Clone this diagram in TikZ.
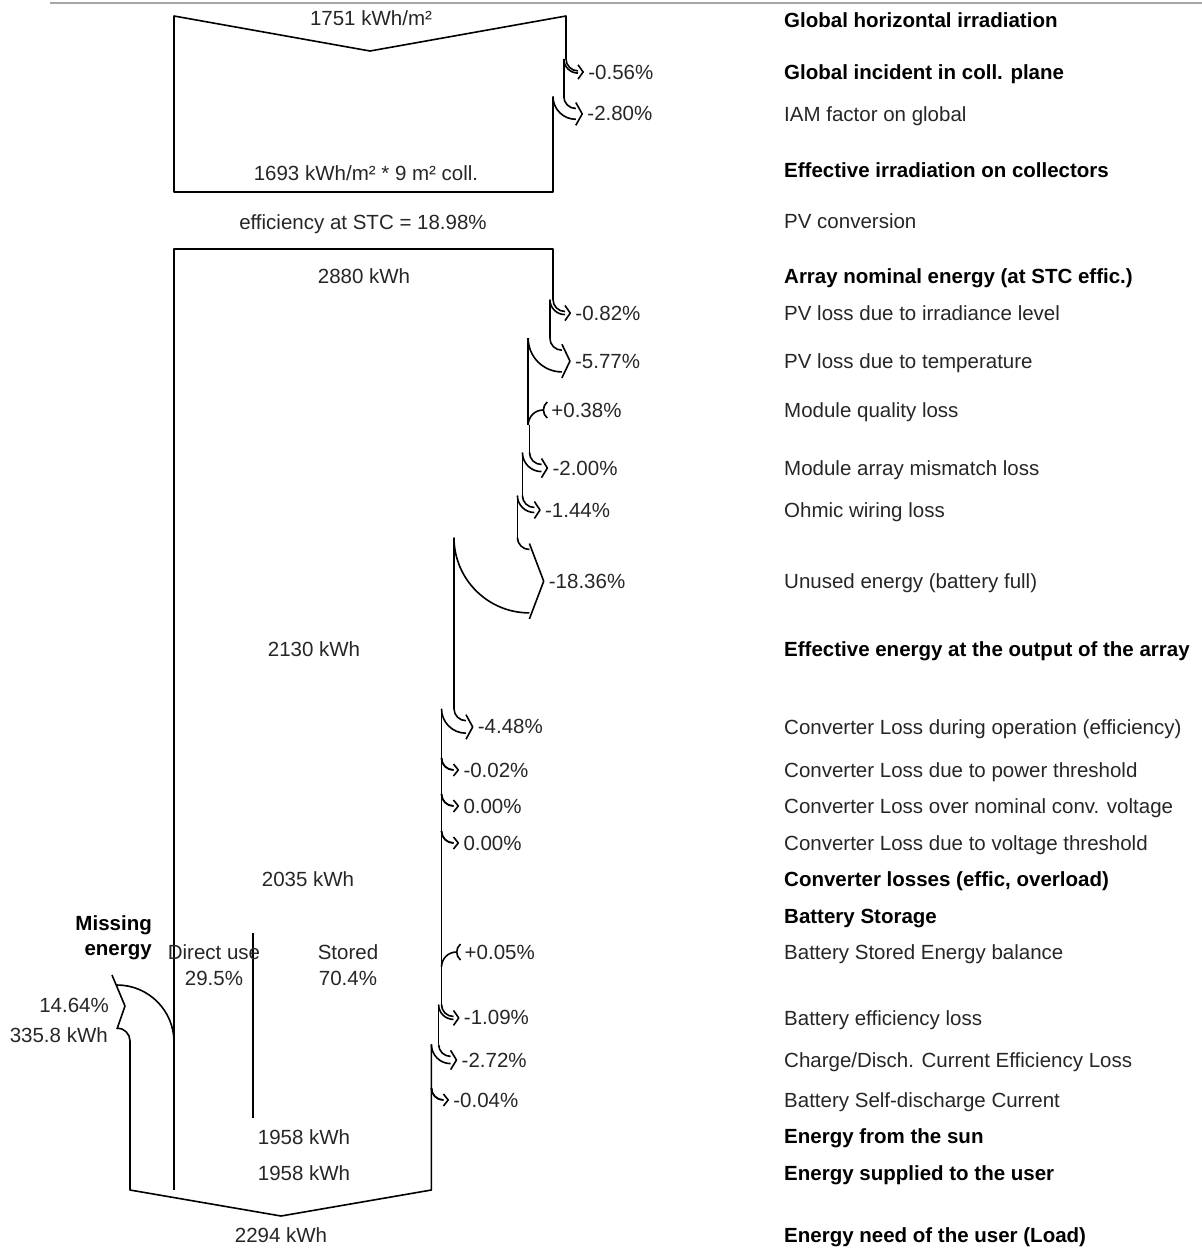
\documentclass[tikz,border=0pt]{standalone}
\usepackage{fontspec}
\setmainfont{Liberation Sans}
\usepackage{tikz}
\usetikzlibrary{arrows,positioning,calc}
\tikzstyle{flow}=[line width=1.6pt,line join=round]
\tikzstyle{stepname}=[anchor=base west,inner sep=0pt,text=black!85,font=\fontsize{20.5}{26}\selectfont]
\tikzstyle{stepbold}=[stepname,text=black,font=\fontsize{20.5}{26}\selectfont\bfseries]
\tikzstyle{flowvalue}=[anchor=base,inner sep=0pt,text=black!85,font=\fontsize{20.5}{26}\selectfont]
\tikzstyle{losspct}=[anchor=base west,inner sep=0pt,text=black!85,font=\fontsize{20.5}{26}\selectfont]
% loss ribbon leaving the band on the right: old edge, new edge, start y, text, name
\newcommand{\lossarrow}[5]{%
  \pgfmathsetmacro{\lossw}{#1-#2}%
  \pgfmathsetmacro{\lossR}{\lossw+12}%
  \pgfmathsetmacro{\lossxe}{#1+12}%
  \pgfmathsetmacro{\lossyo}{#3+12}%
  \pgfmathsetmacro{\lossyi}{#3+\lossR}%
  \pgfmathsetmacro{\lossym}{#3+12+\lossw/2}%
  \pgfmathsetmacro{\losstip}{\lossxe+3+0.3*(\lossw/2+6)}%
  \pgfmathsetmacro{\lossca}{#3+0.552*12}%
  \pgfmathsetmacro{\losscb}{\lossxe-0.552*12}%
  \pgfmathsetmacro{\losscc}{#3+0.552*\lossR}%
  \pgfmathsetmacro{\losscd}{\lossxe-0.552*\lossR}%
  \pgfmathsetmacro{\losslx}{\losstip+5}%
  \pgfmathsetmacro{\lossly}{\lossym+7}%
  \draw[flow] (#1,#3) .. controls (#1,\lossca) and (\losscb,\lossyo) .. (\lossxe,\lossyo);
  \draw[flow] (#2,#3) .. controls (#2,\losscc) and (\losscd,\lossyi) .. (\lossxe,\lossyi);
  \draw[flow] (\lossxe,\lossyo-6) -- (\losstip,\lossym) -- (\lossxe,\lossyi+6);
  \node[losspct] (#5) at (\losslx,\lossly) {#4};
}
% small gain coming in from the right: edge x, end y, text, name
\newcommand{\gainarrow}[4]{%
  \pgfmathsetmacro{\gainxe}{#1+15}%
  \pgfmathsetmacro{\gainye}{#2-15}%
  \draw[flow] (#1,#2) .. controls (#1,#2-8.3) and (#1+6.7,\gainye) .. (\gainxe,\gainye);
  \draw[flow] (#1+19,#2-23) .. controls (#1+14,#2-19) and (#1+14,#2-11) .. (#1+19,#2-7);
  \node[losspct] (#4) at (#1+23,#2-8) {#3};
}

\begin{document}
\begin{tikzpicture}[x=1pt,y=-1pt]
\useasboundingbox (0,0) rectangle (1202,1248);
\draw[gray!70,line width=1.2pt] (50,3) -- (1202,3);

% irradiation band
\draw[flow] (566,58.9) -- (566,16) -- (370,51) -- (174,16) -- (174,192) -- (553,192) -- (553,96.5);
\draw[flow] (563.8,58.9) -- (563.8,96.5);
\lossarrow{566}{563.8}{58.9}{-0.56\%}{pctgip}
\lossarrow{563.8}{553}{96.5}{-2.80\%}{pctiam}
\node[flowvalue] (ghival) at (371,25) {1751 kWh/m²};
\node[flowvalue] (effval) at (366,180) {1693 kWh/m² * 9 m² coll.};
\node[flowvalue] (stcval) at (363,229) {efficiency at STC = 18.98\%};

% array band
\draw[flow] (553,299.5) -- (553,249) -- (174,249) -- (174,1190);
\draw[flow] (549.9,299.5) -- (549.9,338.2);
\lossarrow{553}{549.9}{299.5}{-0.82\%}{pctirr}
\lossarrow{549.9}{528.2}{338.2}{-5.77\%}{pcttemp}
\draw[flow] (528.2,338.2) -- (528.2,425);
\gainarrow{528.2}{425}{+0.38\%}{pctqual}
\draw[flow] (529.5,425) -- (529.5,452.5);
\lossarrow{529.5}{522.4}{452.5}{-2.00\%}{pctmis}
\draw[flow] (522.4,452.5) -- (522.4,495.5);
\lossarrow{522.4}{517.4}{495.5}{-1.44\%}{pctohm}
\draw[flow] (517.4,495.5) -- (517.4,537.5);
\lossarrow{517.4}{454}{537.5}{-18.36\%}{pctunused}
\node[flowvalue] (nomval) at (364,283) {2880 kWh};
\node[flowvalue] (outval) at (314,656) {2130 kWh};

% converter
\draw[flow] (454,537.5) -- (454,708.7);
\lossarrow{454}{441.5}{708.7}{-4.48\%}{pctconvop}
\draw[flow] (441.5,708.7) -- (441.5,1004.5);
\lossarrow{441.5}{441.5}{758}{-0.02\%}{pctconvpth}
\lossarrow{441.5}{441.5}{794}{0.00\%}{pctconvvnom}
\lossarrow{441.5}{441.5}{831}{0.00\%}{pctconvvth}
\node[flowvalue] (convval) at (308,886) {2035 kWh};

% battery
\gainarrow{441.5}{967}{+0.05\%}{pctbatbal}
\lossarrow{441.5}{438.6}{1004.5}{-1.09\%}{pctbateff}
\draw[flow] (438.6,1004.5) -- (438.6,1044.4);
\lossarrow{438.6}{431.4}{1044.4}{-2.72\%}{pctbatcur}
\lossarrow{431.4}{431.4}{1088}{-0.04\%}{pctbatself}
\draw[flow] (431.4,1044.4) -- (431.4,1190) -- (281,1216) -- (130,1190) -- (130,1041);
\draw[flow] (253,933) -- (253,1118);
\node[flowvalue] (direct) at (214,959) {Direct use};
\node[flowvalue] (directpct) at (214,985) {29.5\%};
\node[flowvalue] (stored) at (348,959) {Stored};
\node[flowvalue] (storedpct) at (348,985) {70.4\%};
\node[flowvalue] (sunval) at (304,1144) {1958 kWh};
\node[flowvalue] (userval) at (304,1180) {1958 kWh};
\node[flowvalue] (loadval) at (281,1242) {2294 kWh};

% missing energy
\draw[flow] (117,985) .. controls (148.5,985) and (174,1010.5) .. (174,1042);
\draw[flow] (117,1028) .. controls (124.2,1028) and (130,1033.8) .. (130,1041);
\draw[flow] (112,975) -- (125,1006) -- (117,1029);
\node[stepbold,anchor=base east] (missing) at (152,930) {Missing};
\node[stepbold,anchor=base east] (missing2) at (152,955) {energy};
\node[flowvalue,anchor=base east] (misspct) at (109,1012) {14.64\%};
\node[flowvalue,anchor=base east] (misskwh) at (108,1042) {335.8 kWh};

% step names
\node[stepbold] (ghi) at (784,27) {Global horizontal irradiation};
\node[stepbold] (gincoll) at (784,79) {Global incident in coll. plane};
\node[stepname] (iam) at (784,121) {IAM factor on global};
\node[stepbold] (effirr) at (784,177) {Effective irradiation on collectors};
\node[stepname] (pvconv) at (784,228) {PV conversion};
\node[stepbold] (arrnom) at (784,283) {Array nominal energy (at STC effic.)};
\node[stepname] (irrlev) at (784,320) {PV loss due to irradiance level};
\node[stepname] (temp) at (784,368) {PV loss due to temperature};
\node[stepname] (quality) at (784,417) {Module quality loss};
\node[stepname] (mismatch) at (784,475) {Module array mismatch loss};
\node[stepname] (ohmic) at (784,517) {Ohmic wiring loss};
\node[stepname] (unused) at (784,588) {Unused energy (battery full)};
\node[stepbold] (effout) at (784,656) {Effective energy at the output of the array};
\node[stepname] (convop) at (784,734) {Converter Loss during operation (efficiency)};
\node[stepname] (convpth) at (784,777) {Converter Loss due to power threshold};
\node[stepname] (convvnom) at (784,813) {Converter Loss over nominal conv. voltage};
\node[stepname] (convvth) at (784,850) {Converter Loss due to voltage threshold};
\node[stepbold] (convsum) at (784,886) {Converter losses (effic, overload)};
\node[stepbold] (batstore) at (784,923) {Battery Storage};
\node[stepname] (batbal) at (784,959) {Battery Stored Energy balance};
\node[stepname] (bateff) at (784,1025) {Battery efficiency loss};
\node[stepname] (batcur) at (784,1067) {Charge/Disch. Current Efficiency Loss};
\node[stepname] (batself) at (784,1107) {Battery Self-discharge Current};
\node[stepbold] (fromsun) at (784,1143) {Energy from the sun};
\node[stepbold] (touser) at (784,1180) {Energy supplied to the user};
\node[stepbold] (load) at (784,1242) {Energy need of the user (Load)};
\end{tikzpicture}
\end{document}
